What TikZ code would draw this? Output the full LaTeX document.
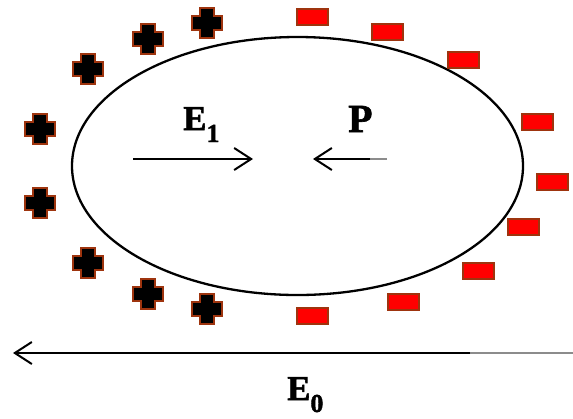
\documentclass[tikz,border=0pt]{standalone}
\usepackage{fontspec}
\setmainfont{Liberation Serif}
\newfontfamily\heavyfont[FakeBold=1.6]{Liberation Serif}
\usetikzlibrary{arrows.meta, shapes.geometric}
\definecolor{chargerim}{RGB}{158, 52, 14}
\definecolor{chargered}{RGB}{255, 0, 0}
\definecolor{fadegray}{RGB}{140, 140, 140}

\begin{document}
\begin{tikzpicture}[
  x=1bp, y=-1bp,
  lbl/.style={inner sep=0pt, font=\fontsize{35}{35}\heavyfont\bfseries},
  field/.style={line width=2bp, -{Straight Barb[length=17bp, width=22bp, line width=2bp]}},
  negbox/.style={draw=chargerim, line width=2bp, fill=chargered, minimum width=31bp, minimum height=16bp, inner sep=0pt},
  pluscharge/.pic={
    \draw[draw=chargerim, line width=2bp, fill=black]
      (-7,-15) -- (7,-15) -- (7,-7) -- (15,-7) -- (15,7) -- (7,7) -- (7,15)
      -- (-7,15) -- (-7,7) -- (-15,7) -- (-15,-7) -- (-7,-7) -- cycle;
  }
]
  \useasboundingbox (0,0) rectangle (573,418);

  % Particle
  \node[draw, line width=2.3bp, ellipse, minimum width=451bp, minimum height=258bp, inner sep=0pt] (body) at (297.5,166) {};

  % Positive charges (left side)
  \foreach \px/\py in {207/23, 148/39, 88/69, 40/129, 40/203, 88/263, 148/294, 207/309}
    \pic at (\px,\py) {pluscharge};

  % Negative charges (right side)
  \foreach \nx/\ny [count=\i] in {312/17, 387/32, 463/60, 537/122, 552/182, 523/227, 478/271, 403/302, 312/316}
    \node[negbox] (neg\i) at (\nx,\ny) {};

  % Inner fields
  \coordinate (e1start) at (133,159);
  \coordinate (e1end) at (253,159);
  \coordinate (pstart) at (387,159);
  \coordinate (pmid) at (370,159);
  \coordinate (pend) at (313,159);
  \draw[field] (e1start) -- (e1end);
  \draw[line width=2bp, fadegray] (pstart) -- (pmid);
  \draw[field] (pmid) -- (pend);

  \node[lbl, anchor=base west] (e1) at (183,130) {E\raisebox{-12bp}{\fontsize{26}{26}\selectfont 1}};
  \node[lbl, anchor=base west, font=\fontsize{40}{40}\heavyfont\bfseries] (p) at (348,132) {P};

  % Applied field
  \coordinate (e0start) at (573,353);
  \coordinate (e0mid) at (470,353);
  \coordinate (e0end) at (13,353);
  \draw[line width=2bp, fadegray] (e0start) -- (e0mid);
  \draw[field] (e0mid) -- (e0end);

  \node[lbl, anchor=base west] (e0) at (287,400) {E\raisebox{-12bp}{\fontsize{26}{26}\selectfont 0}};

\end{tikzpicture}
\end{document}
